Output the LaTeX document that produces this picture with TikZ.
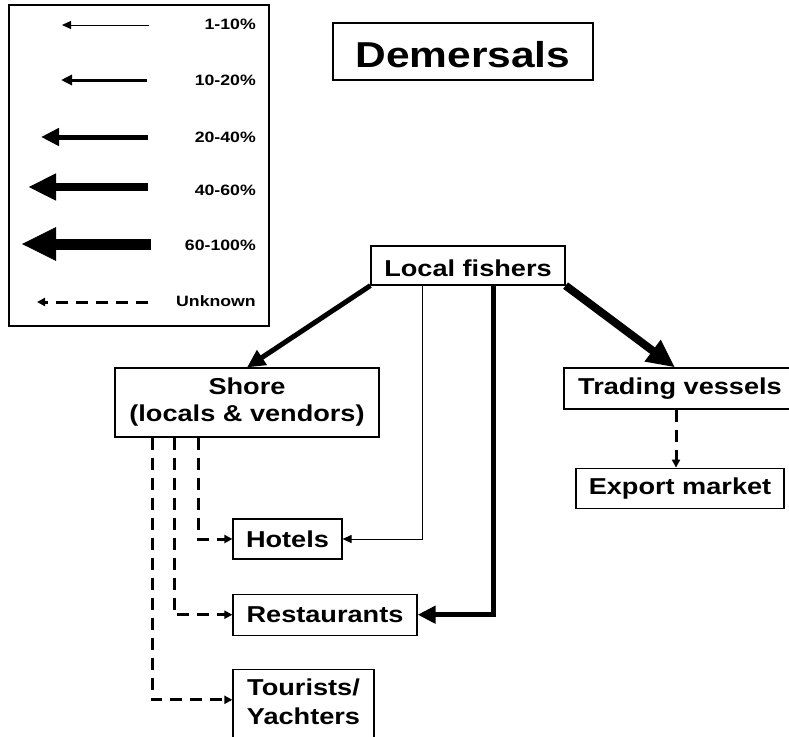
\documentclass[tikz,border=0pt]{standalone}
\usepackage{fontspec}
\setmainfont{Liberation Sans}[FakeStretch=1.18]
\usetikzlibrary{arrows.meta, positioning}

\begin{document}
\begin{tikzpicture}[
  x=1pt, y=-1pt,
  box/.style={rectangle, draw, line width=1.2pt, inner sep=0pt,
    align=center, font=\fontsize{23}{27}\selectfont\bfseries},
  legtxt/.style={anchor=east, inner sep=0pt,
    font=\fontsize{15}{18}\selectfont\bfseries},
  flowA/.style={line width=1pt, -{Triangle[length=9pt, width=8pt]}},
  flowB/.style={line width=3pt, -{Triangle[length=11pt, width=10pt]}},
  flowC/.style={line width=5pt, -{Triangle[length=18pt, width=17pt]}},
  flowD/.style={line width=8pt, -{Triangle[length=28pt, width=25pt]}},
  flowE/.style={line width=11pt, -{Triangle[length=35pt, width=31pt]}},
  flowU/.style={line width=3pt, dash pattern=on 12pt off 8pt,
    -{Triangle[length=8pt, width=8pt]}}
]
  \useasboundingbox (0,0) rectangle (789,736);

  % Legend
  \node[draw, line width=1.2pt, minimum width=260pt, minimum height=321pt,
    inner sep=0pt] (legend) at (139,165.5) {};
  \node[legtxt] (k1) at (256,24) {1-10\%};
  \node[legtxt] (k2) at (256,80) {10-20\%};
  \node[legtxt] (k3) at (256,137) {20-40\%};
  \node[legtxt] (k4) at (256,190) {40-60\%};
  \node[legtxt] (k5) at (256,245) {60-100\%};
  \node[legtxt] (k6) at (256,301) {Unknown};
  \draw[flowA] (149,25) -- (62,25);
  \draw[flowB] (147,80) -- (61,80);
  \draw[flowC] (148,137) -- (41,137);
  \draw[flowD] (148,187) -- (28,187);
  \draw[flowE] (151,244) -- (21,244);
  \draw[flowU] (148,302) -- (37,302);

  % Title
  \node[box, font=\fontsize{36}{40}\selectfont\bfseries,
    minimum width=260pt, minimum height=57pt,
    text height=32pt, text depth=0pt] (title) at (463,51.5) {Demersals};

  % Flow nodes
  \node[box, minimum width=194pt, minimum height=39pt,
    text height=22pt, text depth=0pt] (fishers) at (468,265.5) {Local fishers};
  \node[box, minimum width=264pt, minimum height=69pt]
    (shore) at (247,402.5) {Shore\\(locals \& vendors)};
  \node[box, minimum width=232pt, minimum height=41pt]
    (trading) at (680,388.5) {Trading vessels};
  \node[box, minimum width=208pt, minimum height=40pt, below=58pt of trading]
    (export) {Export market};
  \node[box, minimum width=109pt, minimum height=40pt]
    (hotels) at (287.5,539) {Hotels};
  \node[box, minimum width=184pt, minimum height=41pt,
    below=34pt of hotels.south west, anchor=north west] (rest) {Restaurants};
  \node[box, minimum width=141pt, inner ysep=9pt,
    font=\fontsize{23}{29}\selectfont\bfseries,
    below=33pt of rest.south west, anchor=north west]
    (tourists) {Tourists/\\Yachters\\\mbox{}};

  % Connectors
  \draw[flowC] (fishers.south west) -- (shore.north);
  \draw[flowD] (fishers.south east) -- ([xshift=-5pt]trading.north);
  \draw[flowA] ([xshift=-46pt]fishers.south) |- (hotels.east);
  \draw[flowC] ([xshift=25pt]fishers.south) |- (rest.east);
  \draw[flowU] ([xshift=-4pt]trading.south)
    -- ([xshift=-4pt]trading.south |- export.north);
  \draw[flowU] ([xshift=84pt]shore.south west) |- (hotels.west);
  \draw[flowU] ([xshift=60pt]shore.south west) |- (rest.west);
  \draw[flowU] ([xshift=38pt]shore.south west) |- ([yshift=-31pt]tourists.north west);
\end{tikzpicture}
\end{document}
